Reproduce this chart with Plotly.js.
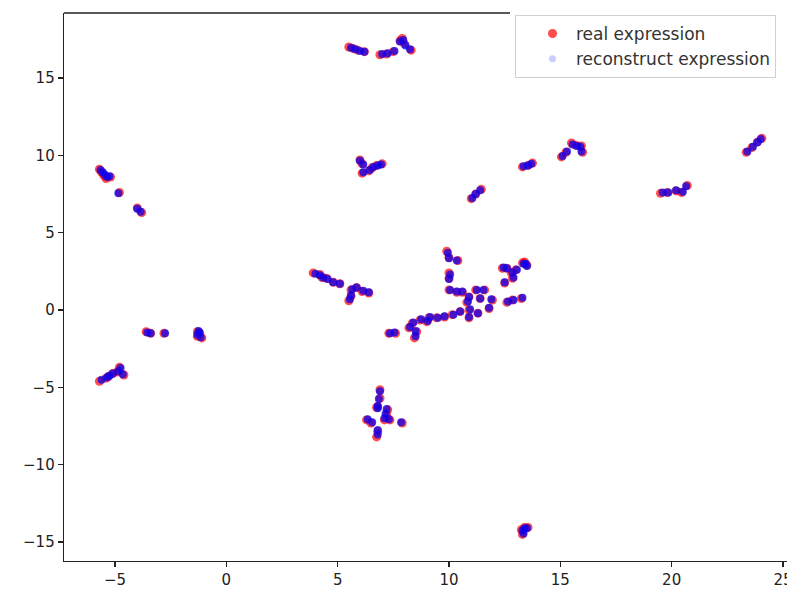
<!DOCTYPE html>
<html>
<head>
<meta charset="utf-8">
<script src="https://cdn.plot.ly/plotly-3.0.1.min.js"></script>
<style>
html,body{margin:0;padding:0;background:#fff;}
#chart{width:787px;height:592px;}
</style>
</head>
<body>
<div id="chart"></div>
<script>
// Real expression (embedding coordinates)
const realX = [
  5.5, 5.7, 5.9, 6.2, 6.9, 7.2, 7.5, 7.8, 7.9, 8.0, 8.3,
  -5.7, -5.6, -5.5, -5.4, -5.2, -4.8, -4.0, -3.8,
  -3.6, -3.4, -2.8, -1.3, -1.3, -1.1, -1.2,
  -5.7, -5.4, -5.1, -4.9, -4.8, -4.6, -5.3,
  3.9, 4.2, 4.3, 4.5, 4.8, 5.1, 5.6, 5.85, 6.1, 6.4, 5.5, 5.6, 7.3, 7.6,
  6.0, 6.1, 6.55, 6.75, 7.0, 6.1, 6.4,
  11.0, 11.2, 11.45,
  13.3, 13.55, 13.75,
  15.05, 15.25, 15.5, 15.7, 15.95, 16.0,
  19.5, 19.8, 20.2, 20.45, 20.7,
  23.35, 23.6, 23.85, 24.05,
  9.9, 10.0, 10.4, 10.0, 10.0, 10.0, 10.35, 10.6, 10.9, 10.8, 11.2, 11.6, 11.4, 11.95, 11.8,
  10.9, 10.9, 11.3, 10.5, 10.15, 9.8, 9.45, 9.1, 9.0, 8.7, 8.35, 8.2, 8.55, 8.45,
  12.4, 12.6, 12.8, 13.0, 13.3, 13.4, 12.85, 12.5, 12.6, 12.85, 13.25, 13.5,
  6.9, 6.9, 6.8, 7.25, 7.2, 6.75, 6.3, 6.5, 6.8, 6.75, 7.1, 7.35, 7.9,
  13.25, 13.4, 13.55, 13.3
];
const realY = [
  17.0, 16.9, 16.8, 16.7, 16.5, 16.55, 16.7, 17.4, 17.55, 17.2, 16.8,
  9.1, 8.9, 8.7, 8.5, 8.6, 7.6, 6.6, 6.3,
  -1.4, -1.5, -1.5, -1.4, -1.7, -1.8, -1.5,
  -4.6, -4.4, -4.1, -4.0, -3.7, -4.2, -4.3,
  2.4, 2.3, 2.1, 2.05, 1.8, 1.7, 1.3, 1.45, 1.2, 1.1, 0.6, 0.9, -1.5, -1.5,
  9.7, 9.45, 9.2, 9.35, 9.45, 8.85, 9.0,
  7.2, 7.5, 7.8,
  9.25, 9.35, 9.5,
  9.9, 10.2, 10.8, 10.65, 10.6, 10.2,
  7.55, 7.6, 7.7, 7.6, 8.05,
  10.2, 10.5, 10.85, 11.1,
  3.8, 3.4, 3.2, 2.4, 2.05, 1.3, 1.15, 1.15, 0.85, 0.5, 1.3, 1.3, 0.75, 0.65, 0.1,
  0.0, -0.5, -0.2, -0.1, -0.3, -0.45, -0.5, -0.5, -0.75, -0.65, -0.85, -1.15, -1.4, -1.8,
  2.7, 2.7, 2.4, 2.6, 3.05, 3.1, 2.05, 1.75, 0.5, 0.65, 0.75, 2.9,
  -5.15, -5.7, -6.25, -6.45, -6.8, -6.3, -7.1, -7.3, -7.85, -8.2, -7.1, -7.1, -7.3,
  -14.2, -14.05, -14.05, -14.5
];
// Reconstructed expression
const recX = [
  5.6, 5.8, 6.0, 6.2, 7.0, 7.25, 7.55, 7.8, 7.95, 8.05, 8.25,
  -5.65, -5.55, -5.45, -5.35, -5.25, -4.85, -4.0, -3.85,
  -3.55, -3.4, -2.75, -1.25, -1.3, -1.15, -1.2,
  -5.6, -5.35, -5.1, -4.85, -4.75, -4.65, -5.25,
  4.0, 4.2, 4.35, 4.55, 4.8, 5.1, 5.65, 5.85, 6.15, 6.4, 5.55, 5.6, 7.35, 7.55,
  6.0, 6.15, 6.6, 6.8, 6.95, 6.15, 6.45,
  11.05, 11.2, 11.4,
  13.35, 13.55, 13.7,
  15.1, 15.3, 15.55, 15.75, 15.9, 15.95,
  19.6, 19.85, 20.2, 20.5, 20.65,
  23.4, 23.65, 23.85, 24.0,
  9.95, 10.0, 10.35, 10.05, 10.0, 10.05, 10.35, 10.6, 10.9, 10.85, 11.25, 11.55, 11.4, 11.9, 11.8,
  10.95, 10.9, 11.3, 10.5, 10.2, 9.8, 9.5, 9.15, 9.05, 8.75, 8.4, 8.25, 8.5, 8.5,
  12.45, 12.6, 12.85, 13.05, 13.35, 13.45, 12.9, 12.5, 12.65, 12.9, 13.3, 13.5,
  6.9, 6.85, 6.8, 7.2, 7.15, 6.8, 6.35, 6.55, 6.8, 6.8, 7.1, 7.3, 7.85,
  13.3, 13.4, 13.5, 13.35
];
const recY = [
  16.95, 16.85, 16.75, 16.7, 16.55, 16.6, 16.75, 17.35, 17.45, 17.1, 16.85,
  9.05, 8.9, 8.75, 8.6, 8.65, 7.55, 6.55, 6.35,
  -1.45, -1.5, -1.5, -1.35, -1.6, -1.75, -1.45,
  -4.5, -4.35, -4.1, -3.95, -3.75, -4.15, -4.25,
  2.35, 2.25, 2.1, 2.0, 1.8, 1.7, 1.35, 1.45, 1.25, 1.15, 0.7, 0.95, -1.5, -1.45,
  9.65, 9.4, 9.25, 9.35, 9.4, 8.9, 9.05,
  7.25, 7.5, 7.75,
  9.3, 9.35, 9.45,
  9.95, 10.25, 10.7, 10.6, 10.55, 10.25,
  7.6, 7.6, 7.75, 7.65, 8.0,
  10.25, 10.55, 10.85, 11.05,
  3.7, 3.35, 3.2, 2.3, 2.0, 1.3, 1.2, 1.2, 0.85, 0.55, 1.3, 1.3, 0.75, 0.7, 0.15,
  0.05, -0.45, -0.2, -0.1, -0.3, -0.4, -0.5, -0.45, -0.7, -0.6, -0.8, -1.1, -1.35, -1.7,
  2.75, 2.7, 2.45, 2.6, 3.0, 3.0, 2.1, 1.8, 0.55, 0.65, 0.8, 2.85,
  -5.25, -5.75, -6.2, -6.4, -6.7, -6.35, -7.05, -7.25, -7.75, -8.05, -7.0, -7.05, -7.25,
  -14.25, -14.1, -14.1, -14.45
];
const seriesNames = ["real expression", "reconstruct expression"];
const xTicks = [-5, 0, 5, 10, 15, 20, 25];
const yTicks = [-15, -10, -5, 0, 5, 10, 15];

const font = "DejaVu Sans, sans-serif";
const traces = [
  {
    x: realX, y: realY, type: "scatter", mode: "markers", name: seriesNames[0],
    marker: {color: "rgba(255,0,0,0.7)", size: 9, line: {width: 0}},
    hoverinfo: "x+y"
  },
  {
    x: recX, y: recY, type: "scatter", mode: "markers", name: seriesNames[1],
    marker: {color: "rgba(10,0,240,0.75)", size: 8, line: {width: 0}},
    showlegend: false, hoverinfo: "x+y"
  },
  {
    x: [null], y: [null], type: "scatter", mode: "markers", name: seriesNames[1],
    marker: {color: "rgba(0,0,255,0.2)", size: 7, line: {width: 0}},
    hoverinfo: "skip"
  }
];

const W = 787, H = 592;
const ml = 64, mt = 13, mb = 31, mr = 0;
const pw = W - ml - mr;
const tickLabel = v => v < 0 ? "\u2212" + Math.abs(v) : String(v);

const layout = {
  width: W, height: H,
  margin: {l: ml, r: mr, t: mt, b: mb, pad: 0},
  paper_bgcolor: "#fff", plot_bgcolor: "#fff",
  font: {family: font, size: 15, color: "#222"},
  showlegend: true,
  xaxis: {
    range: [-7.29, 25.18], tickvals: xTicks, ticktext: xTicks.map(tickLabel),
    showgrid: false, zeroline: false, showline: true, linecolor: "#222", linewidth: 1.3,
    ticks: "outside", ticklen: 5, tickwidth: 1.3, tickcolor: "#222", ticklabeloverflow: "allow",
    tickfont: {family: font, size: 15, color: "#222"}, mirror: false
  },
  yaxis: {
    range: [-16.22, 19.2], tickvals: yTicks, ticktext: yTicks.map(tickLabel),
    showgrid: false, zeroline: false, showline: true, linecolor: "#222", linewidth: 1.3,
    ticks: "outside", ticklen: 5, tickwidth: 1.3, tickcolor: "#222",
    tickfont: {family: font, size: 15, color: "#222"}, mirror: false
  },
  legend: {
    x: (515 - ml) / pw, xanchor: "left", y: 1 - 2 / (H - mt - mb), yanchor: "top",
    bgcolor: "rgba(255,255,255,0.9)", bordercolor: "#d0d0d0", borderwidth: 1,
    font: {family: font, size: 17, color: "#333"}, itemwidth: 37, indentation: 13,
    tracegroupgap: 0
  },
  shapes: [
    {type: "line", xref: "paper", yref: "paper", x0: 0, x1: (510 - ml) / pw, y0: 1, y1: 1,
     line: {color: "#222", width: 1.3}}
  ]
};

Plotly.newPlot("chart", traces, layout, {displayModeBar: false, staticPlot: true});
</script>
</body>
</html>
